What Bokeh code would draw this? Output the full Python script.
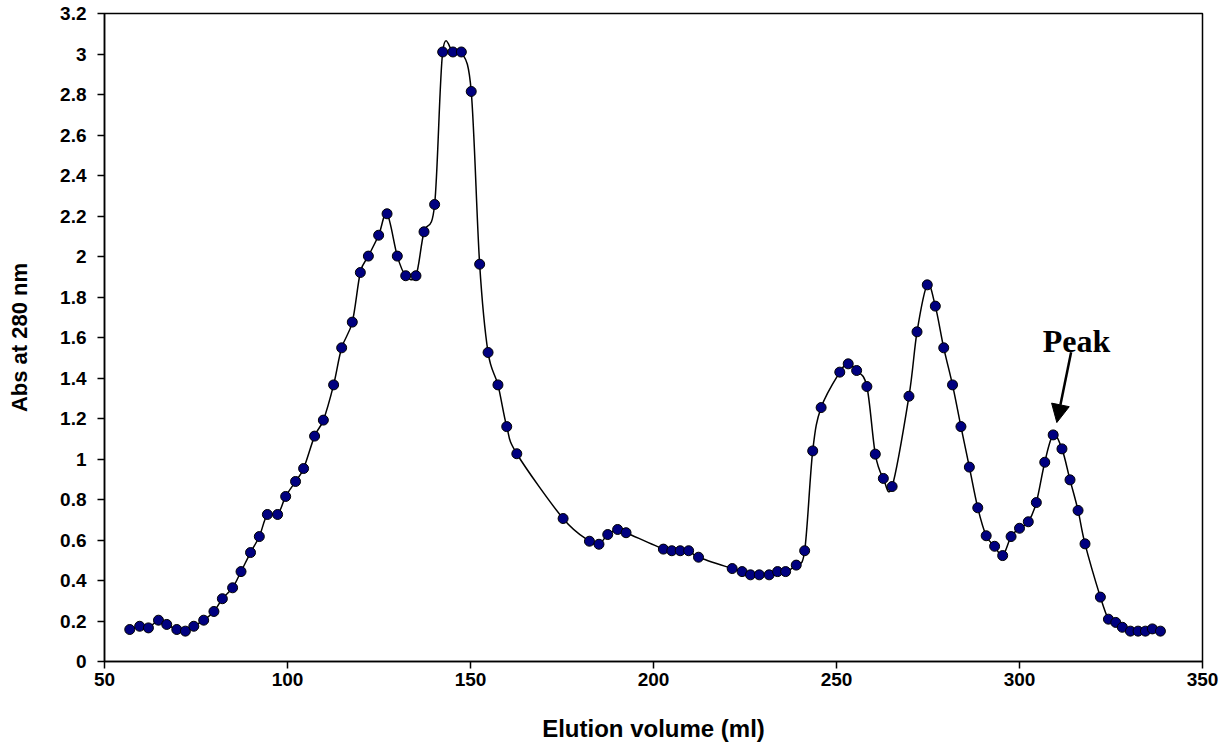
from bokeh.plotting import figure
from bokeh.models import Range1d, FixedTicker, CustomJSTickFormatter, Arrow, NormalHead, Label, ColumnDataSource
from bokeh.embed import file_html
from bokeh.resources import INLINE

# ---- data ----
volume_ml = [56.9, 59.6, 62.0, 64.75, 67.0, 69.75, 72.1, 74.4, 77.1, 79.9, 82.2, 85.0, 87.3,
             89.9, 92.3, 94.5, 97.3, 99.5, 102.2, 104.4,
             107.4, 109.8, 112.6, 114.8, 117.7, 119.9, 122.1, 124.9, 127.2, 130.0, 132.3, 135.1, 137.3,
             140.2, 142.4, 145.2, 147.5, 150.2, 152.5, 154.8, 157.5, 159.9, 162.65,
             175.3, 182.5, 185.1, 187.5, 190.2, 192.5,
             202.7, 205.0, 207.3, 209.6, 212.3,
             221.5, 224.2, 226.5, 228.9, 231.6, 233.9, 236.1, 239.0, 241.3,
             243.5, 245.8, 250.9, 253.2, 255.5, 258.3, 260.6, 262.8, 265.2,
             269.8, 272.0, 274.8, 277.0, 279.3, 281.7, 284.0, 286.3, 288.6,
             290.9, 293.2, 295.4, 297.7, 300.0, 302.4, 304.6, 306.9, 309.2, 311.6, 313.8, 316.0, 317.9,
             322.1, 324.3, 326.3, 328.1, 330.3, 332.4, 334.4, 336.3, 338.5]
abs_280 = [0.158, 0.174, 0.166, 0.204, 0.183, 0.158, 0.150, 0.174, 0.204, 0.247, 0.31, 0.364, 0.444,
           0.538, 0.617, 0.726, 0.726, 0.815, 0.889, 0.953,
           1.113, 1.192, 1.366, 1.549, 1.676, 1.921, 2.002, 2.105, 2.211, 2.002, 1.905, 1.905, 2.122,
           2.257, 3.01, 3.01, 3.01, 2.815, 1.962, 1.526, 1.366, 1.16, 1.026,
           0.706, 0.594, 0.579, 0.627, 0.652, 0.636,
           0.555, 0.547, 0.547, 0.547, 0.515,
           0.459, 0.444, 0.428, 0.428, 0.428, 0.444, 0.444, 0.476, 0.547,
           1.040, 1.254, 1.429, 1.470, 1.437, 1.358, 1.024, 0.904, 0.864,
           1.310, 1.628, 1.860, 1.755, 1.549, 1.366, 1.160, 0.960, 0.759,
           0.621, 0.569, 0.523, 0.617, 0.658, 0.690, 0.785, 0.984, 1.119, 1.050, 0.897, 0.746, 0.581,
           0.318, 0.209, 0.193, 0.169, 0.150, 0.150, 0.150, 0.161, 0.150]
x_ticks = [50, 100, 150, 200, 250, 300, 350]
y_ticks = [0, 0.2, 0.4, 0.6, 0.8, 1, 1.2, 1.4, 1.6, 1.8, 2, 2.2, 2.4, 2.6, 2.8, 3, 3.2]
x_title = "Elution volume (ml)"
y_title = "Abs at 280 nm"
peak_label = "Peak"
# annotation anchor (data units): label centre, arrow tail and tip
peak_text_xy = (315.6, 1.585)
arrow_from = (314.1, 1.527)
arrow_to = (310.2, 1.18)

FONT = "Liberation Sans"

p = figure(width=1222, height=745, output_backend="svg", toolbar_location=None,
           x_range=Range1d(50, 350), y_range=Range1d(0, 3.2),
           min_border_left=104, min_border_right=20, min_border_top=13, min_border_bottom=84)
p.grid.visible = False
p.outline_line_color = "black"
p.outline_line_width = 1.5
p.background_fill_color = "white"
p.border_fill_color = "white"

for ax in (p.xaxis[0], p.yaxis[0]):
    ax.axis_line_color = "black"
    ax.axis_line_width = 1.5
    ax.major_tick_line_color = "black"
    ax.major_tick_line_width = 1.5
    ax.major_tick_out = 7
    ax.major_tick_in = 0
    ax.minor_tick_line_color = None
    ax.major_label_text_font = FONT
    ax.major_label_text_font_style = "bold"
    ax.major_label_text_font_size = "19px"
    ax.major_label_text_color = "black"
    ax.axis_label_text_font = FONT
    ax.axis_label_text_font_style = "bold"
    ax.axis_label_text_color = "black"

p.xaxis.axis_label_text_font_size = "24px"
p.yaxis.axis_label_text_font_size = "22px"
p.xaxis.ticker = FixedTicker(ticks=x_ticks)
p.yaxis.ticker = FixedTicker(ticks=y_ticks)
p.yaxis.formatter = CustomJSTickFormatter(code="return tick.toFixed(1).replace(/\\.0$/, '');")
p.xaxis.axis_label = x_title
p.yaxis.axis_label = y_title
p.xaxis.major_label_standoff = 4
p.yaxis.major_label_standoff = 11
p.xaxis.axis_label_standoff = 26
p.yaxis.axis_label_standoff = 25

# smoothed line (Bezier segments through the data points, like a spreadsheet "smoothed line")
n = len(volume_ml)
x0, y0, x1, y1, cx0, cy0, cx1, cy1 = [], [], [], [], [], [], [], []
for i in range(n - 1):
    im1 = max(i - 1, 0)
    ip2 = min(i + 2, n - 1)
    x0.append(volume_ml[i]); y0.append(abs_280[i])
    x1.append(volume_ml[i + 1]); y1.append(abs_280[i + 1])
    cx0.append(volume_ml[i] + (volume_ml[i + 1] - volume_ml[im1]) / 6.0)
    cy0.append(abs_280[i] + (abs_280[i + 1] - abs_280[im1]) / 6.0)
    cx1.append(volume_ml[i + 1] - (volume_ml[ip2] - volume_ml[i]) / 6.0)
    cy1.append(abs_280[i + 1] - (abs_280[ip2] - abs_280[i]) / 6.0)
bsrc = ColumnDataSource(dict(x0=x0, y0=y0, x1=x1, y1=y1, cx0=cx0, cy0=cy0, cx1=cx1, cy1=cy1))
p.bezier(x0="x0", y0="y0", x1="x1", y1="y1", cx0="cx0", cy0="cy0", cx1="cx1", cy1="cy1",
         source=bsrc, line_color="black", line_width=1.5)

p.scatter(volume_ml, abs_280, marker="circle", size=10, fill_color="#000080",
          line_color="black", line_width=1)

p.add_layout(Arrow(end=NormalHead(size=18, fill_color="black", line_color="black"),
                   x_start=arrow_from[0], y_start=arrow_from[1],
                   x_end=arrow_to[0], y_end=arrow_to[1],
                   line_color="black", line_width=2.5))
p.add_layout(Label(x=peak_text_xy[0], y=peak_text_xy[1], text=peak_label,
                   text_font="Liberation Serif", text_font_style="bold", text_font_size="32px",
                   text_align="center", text_baseline="middle", text_color="black"))

open("out.html", "w").write(file_html(p, INLINE))
